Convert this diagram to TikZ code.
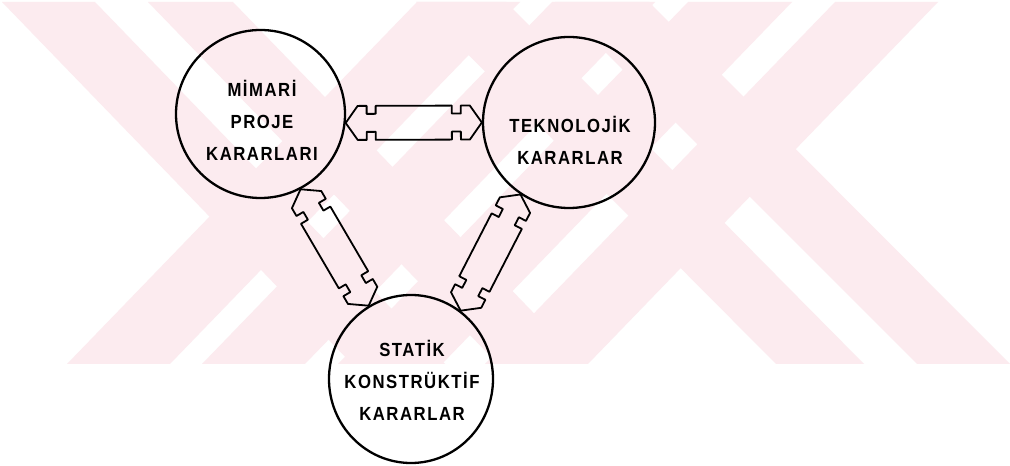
\documentclass[tikz,border=0pt]{standalone}
\usepackage{fontspec}
\setmainfont{Liberation Sans}
\newfontfamily\lblfont[LetterSpace=8,FakeStretch=0.88]{Liberation Sans}
\usetikzlibrary{shapes.geometric,calc}
\definecolor{wm}{RGB}{252,235,239}
\newcommand\drawbone[2]{%
  \path let \p1=(#1), \p2=(#2) in \pgfextra{%
    \pgfmathsetmacro\tmpang{atan2(\y2-\y1,\x2-\x1)}%
    \pgfmathsetmacro\tmplen{veclen(\x2-\x1,\y2-\y1)}%
    \xdef\boneang{\tmpang}\xdef\bonelen{\tmplen}};
  \begin{scope}[shift={(#1)}, rotate=\boneang]
    \draw[bonepath] (0,0) -- (12,17) -- (21,17) -- (21,9) -- (30,9) -- (30,17)
      -- (\bonelen-30,17) -- (\bonelen-30,9) -- (\bonelen-21,9) -- (\bonelen-21,17)
      -- (\bonelen-12,17) -- (\bonelen,0) -- (\bonelen-12,-17) -- (\bonelen-21,-17)
      -- (\bonelen-21,-9) -- (\bonelen-30,-9) -- (\bonelen-30,-17) -- (30,-17)
      -- (30,-9) -- (21,-9) -- (21,-17) -- (12,-17) -- cycle;
  \end{scope}}
\begin{document}
\begin{tikzpicture}[x=1pt,y=1pt,
  decision/.style={draw, line width=2.3pt, ellipse, inner sep=0pt},
  lbl/.style={font=\lblfont\bfseries\fontsize{19}{32}\selectfont, align=center, inner sep=0pt},
  bonepath/.style={draw, line width=1.8pt, line join=round}]
\useasboundingbox (0,0) rectangle (1010,466);
\fill[white] (0,0) rectangle (1010,466);
% watermark
\begin{scope}
  \clip (0,102) rectangle (1010,464);
  \foreach \a/\b/\c/\d in {2/95/352/445, 148/233/498/583, 417/520/67/170, 552/655/202/305,
                           416/506/776/864, 555/649/917/1010, 688/792/338/442, 835/938/485/588}
    \fill[wm] (\a,464) -- (\b,464) -- (\d,102) -- (\c,102) -- cycle;
\end{scope}
% decision circles
\node[decision, minimum width=169pt, minimum height=168pt] (m) at (260.5,352) {};
\node[decision, minimum width=172pt, minimum height=171pt] (t) at (569,343.5) {};
\node[decision, minimum width=164pt, minimum height=168pt] (s) at (411,87) {};
% labels
\node[lbl] (mt) at (262,346) {MİMARİ\\PROJE\\KARARLARI};
\node[lbl] (tt) at (570,326) {TEKNOLOJİK\\KARARLAR};
\node[lbl] (st) at (412,86) {STATİK\\KONSTRÜKTİF\\KARARLAR};
% connectors
\drawbone{m.-6}{t.180}
\drawbone{m.-62}{s.120}
\drawbone{t.236}{s.54}
\end{tikzpicture}
\end{document}
